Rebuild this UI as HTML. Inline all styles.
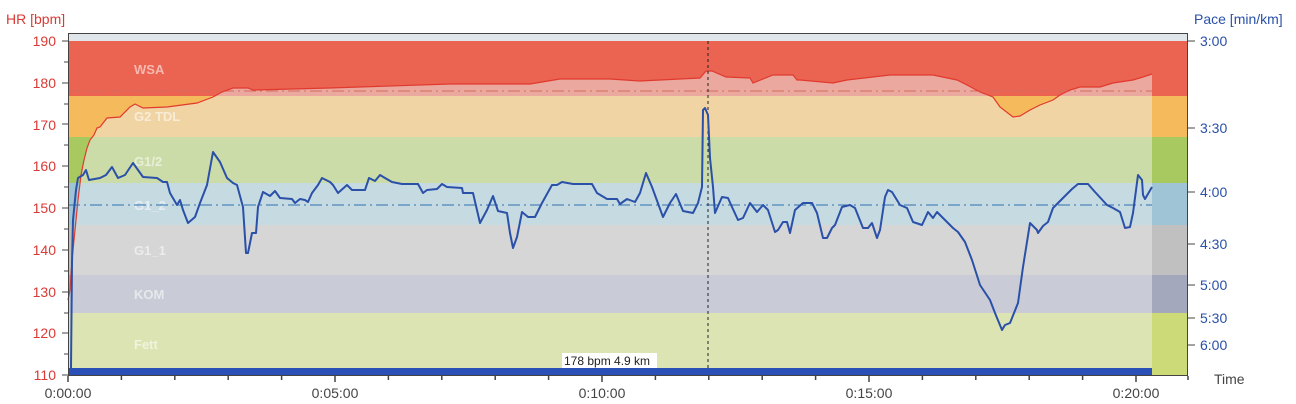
<!DOCTYPE html>
<html><head><meta charset="utf-8"><style>
html,body{margin:0;padding:0;background:#fff;}
svg{display:block;font-family:"Liberation Sans",sans-serif;}
</style></head><body>
<svg width="1296" height="404" viewBox="0 0 1296 404" xmlns="http://www.w3.org/2000/svg">
<defs>
<clipPath id="above">
<polygon points="68,41 1152,41 1152,74 1143,77 1133,80 1113,83 1100,87 1080,87 1070,90 1060,95 1053,100 1040,105 1030,110 1020,116 1013,117 1000,107 993,97 980,92 967,85 957,80 933,75 910,75 890,75 847,80 833,83 800,80 797,80 793,75 773,75 753,83 750,78 726,77 712,71 706,71 700,78 640,81 610,79 560,79 530,84 450,84 330,88 253,90 248,88 233,88 222,92 213,97 197,103 167,107 143,108 135,104 130,107 120,117 107,118 100,127 97,128 94,135 90,140 87,148 84,160 81,175 78,200 75,230 72,260 70,290 68,300"/>
</clipPath>
</defs>
<rect x="68" y="33" width="1120" height="8" fill="#E0E6EA"/>
<g>
<rect x="68" y="41" width="1084" height="55" fill="#EBA89E"/>
<rect x="68" y="96" width="1084" height="41" fill="#F1D4A4"/>
<rect x="68" y="137" width="1084" height="46" fill="#CCDCA8"/>
<rect x="68" y="183" width="1084" height="42" fill="#C6DAE2"/>
<rect x="68" y="225" width="1084" height="50" fill="#D6D6D6"/>
<rect x="68" y="275" width="1084" height="38" fill="#C9CCD6"/>
<rect x="68" y="313" width="1084" height="62" fill="#DDE4B4"/>
</g>
<g>
<rect x="1152" y="41" width="36" height="55" fill="#EB6351"/>
<rect x="1152" y="96" width="36" height="41" fill="#F4BA5C"/>
<rect x="1152" y="137" width="36" height="46" fill="#A8C960"/>
<rect x="1152" y="183" width="36" height="42" fill="#9EC4D6"/>
<rect x="1152" y="225" width="36" height="50" fill="#C0C0C0"/>
<rect x="1152" y="275" width="36" height="38" fill="#A4A8BC"/>
<rect x="1152" y="313" width="36" height="62" fill="#CCDB78"/>
</g>
<g clip-path="url(#above)">
<rect x="68" y="41" width="1084" height="55" fill="#EB6351"/>
<rect x="68" y="96" width="1084" height="41" fill="#F4BA5C"/>
<rect x="68" y="137" width="1084" height="46" fill="#A8C960"/>
<rect x="68" y="183" width="1084" height="42" fill="#9EC4D6"/>
<rect x="68" y="225" width="1084" height="50" fill="#C0C0C0"/>
<rect x="68" y="275" width="1084" height="38" fill="#A4A8BC"/>
</g>
<g fill="#fff" fill-opacity="0.55" font-weight="bold" font-size="13">
<text x="134" y="74">WSA</text>
<text x="134" y="121">G2 TDL</text>
<text x="134" y="166">G1/2</text>
<text x="134" y="210">G1_2</text>
<text x="134" y="255">G1_1</text>
<text x="134" y="299">KOM</text>
<text x="134" y="349">Fett</text>
</g>
<line x1="68" y1="91" x2="1152" y2="91" stroke="#D66A5E" stroke-width="1" stroke-dasharray="12,4,2,4"/>
<line x1="68" y1="205" x2="1152" y2="205" stroke="#2E6FAE" stroke-width="1" stroke-dasharray="12,4,2,4"/>
<polyline fill="none" stroke="#E03A2E" stroke-width="1.2" points="68,300 70,290 72,260 75,230 78,200 81,175 84,160 87,148 90,140 94,135 97,128 100,127 107,118 120,117 130,107 135,104 143,108 167,107 197,103 213,97 222,92 233,88 248,88 253,90 330,88 450,84 530,84 560,79 610,79 640,81 700,78 706,71 712,71 726,77 750,78 753,83 773,75 793,75 797,80 800,80 833,83 847,80 890,75 910,75 933,75 957,80 967,85 980,92 993,97 1000,107 1013,117 1020,116 1030,110 1040,105 1053,100 1060,95 1070,90 1080,87 1100,87 1113,83 1133,80 1143,77 1152,74"/>
<line x1="708" y1="41" x2="708" y2="368" stroke="#222" stroke-width="1" stroke-dasharray="3,3"/>
<polyline fill="none" stroke="#2A50A8" stroke-width="2" stroke-linejoin="round" points="71,368 72,263 73,220 76,190 78,178 83,175 86,170 89,180 100,178 106,175 112,167 118,178 125,175 133,163 143,177 157,178 163,182 167,182 170,193 177,205 180,200 183,210 188,223 195,217 200,203 207,185 213,152 220,162 227,178 233,183 237,185 243,207 246,253 248,253 252,233 256,233 258,207 263,192 270,196 275,191 280,198 292,199 295,203 300,199 305,200 308,202 312,193 318,185 322,178 330,182 333,185 338,193 347,185 352,190 365,190 369,178 375,181 380,175 385,178 392,182 402,184 418,184 423,193 427,190 437,189 442,184 447,187 462,188 463,193 473,193 480,223 487,210 493,196 498,211 507,213 510,233 513,248 517,237 522,212 528,217 535,217 542,203 552,185 557,185 562,182 573,184 592,184 597,193 607,199 617,199 620,204 627,199 635,202 640,193 646,173 652,187 663,217 670,203 676,194 683,211 693,213 698,203 702,187 703,110 705,108 708,115 710,158 713,187 715,213 722,197 728,198 732,207 738,220 743,218 750,203 757,212 763,205 768,210 775,232 778,230 783,222 787,222 790,233 795,210 803,203 812,203 817,213 823,238 827,238 832,228 835,225 842,207 850,205 855,208 863,228 868,228 872,223 877,238 880,230 885,197 888,190 892,192 900,205 907,208 913,222 922,225 928,212 933,218 937,212 943,218 953,228 958,232 965,242 972,260 980,285 990,300 995,313 1002,330 1005,325 1010,323 1018,303 1023,267 1030,223 1037,230 1038,233 1043,226 1048,222 1053,208 1063,198 1072,189 1078,184 1088,184 1095,192 1107,205 1113,208 1120,212 1125,228 1130,227 1133,213 1138,175 1142,180 1143,195 1145,199 1152,187"/>
<rect x="68" y="368" width="1084" height="7" fill="#2A50B8"/>
<rect x="562" y="353" width="95" height="15" fill="#fff"/>
<text x="564" y="365" font-size="12" fill="#222">178 bpm 4.9 km</text>
<rect x="68.5" y="33.5" width="1119" height="342" fill="none" stroke="#444" stroke-width="1"/>
<g stroke="#444" stroke-width="1">
<line x1="62" y1="41" x2="68" y2="41"/><line x1="62" y1="83" x2="68" y2="83"/><line x1="62" y1="124" x2="68" y2="124"/><line x1="62" y1="166" x2="68" y2="166"/><line x1="62" y1="208" x2="68" y2="208"/><line x1="62" y1="250" x2="68" y2="250"/><line x1="62" y1="292" x2="68" y2="292"/><line x1="62" y1="333" x2="68" y2="333"/><line x1="62" y1="375" x2="68" y2="375"/>
<line x1="64" y1="62" x2="68" y2="62"/><line x1="64" y1="104" x2="68" y2="104"/><line x1="64" y1="145" x2="68" y2="145"/><line x1="64" y1="187" x2="68" y2="187"/><line x1="64" y1="229" x2="68" y2="229"/><line x1="64" y1="271" x2="68" y2="271"/><line x1="64" y1="313" x2="68" y2="313"/><line x1="64" y1="354" x2="68" y2="354"/>
</g>
<g fill="#D93A35" font-size="14" text-anchor="end">
<text x="56" y="46">190</text><text x="56" y="88">180</text><text x="56" y="130">170</text><text x="56" y="171">160</text><text x="56" y="213">150</text><text x="56" y="255">140</text><text x="56" y="297">130</text><text x="56" y="338">120</text><text x="56" y="380">110</text>
</g>
<text x="6" y="24" font-size="14" fill="#D93A35">HR [bpm]</text>
<g stroke="#444" stroke-width="1">
<line x1="1188" y1="41" x2="1195" y2="41"/><line x1="1188" y1="128" x2="1195" y2="128"/><line x1="1188" y1="192" x2="1195" y2="192"/><line x1="1188" y1="244" x2="1195" y2="244"/><line x1="1188" y1="285" x2="1195" y2="285"/><line x1="1188" y1="318" x2="1195" y2="318"/><line x1="1188" y1="345" x2="1195" y2="345"/>
</g>
<g fill="#2A50A8" font-size="14">
<text x="1200" y="46">3:00</text><text x="1200" y="133">3:30</text><text x="1200" y="197">4:00</text><text x="1200" y="249">4:30</text><text x="1200" y="290">5:00</text><text x="1200" y="323">5:30</text><text x="1200" y="350">6:00</text>
</g>
<text x="1194" y="24" font-size="14" fill="#2A50A8">Pace [min/km]</text>
<text x="1214" y="384" font-size="14" fill="#444">Time</text>
<g stroke="#444" stroke-width="1.5">
<line x1="68" y1="376" x2="68" y2="382"/><line x1="121.4" y1="376" x2="121.4" y2="380"/><line x1="174.8" y1="376" x2="174.8" y2="380"/><line x1="228.2" y1="376" x2="228.2" y2="380"/><line x1="281.6" y1="376" x2="281.6" y2="380"/>
<line x1="335" y1="376" x2="335" y2="382"/><line x1="388.4" y1="376" x2="388.4" y2="380"/><line x1="441.8" y1="376" x2="441.8" y2="380"/><line x1="495.2" y1="376" x2="495.2" y2="380"/><line x1="548.6" y1="376" x2="548.6" y2="380"/>
<line x1="602" y1="376" x2="602" y2="382"/><line x1="655.4" y1="376" x2="655.4" y2="380"/><line x1="708.8" y1="376" x2="708.8" y2="380"/><line x1="762.2" y1="376" x2="762.2" y2="380"/><line x1="815.6" y1="376" x2="815.6" y2="380"/>
<line x1="869" y1="376" x2="869" y2="382"/><line x1="922.4" y1="376" x2="922.4" y2="380"/><line x1="975.8" y1="376" x2="975.8" y2="380"/><line x1="1029.2" y1="376" x2="1029.2" y2="380"/><line x1="1082.6" y1="376" x2="1082.6" y2="380"/>
<line x1="1136" y1="376" x2="1136" y2="382"/><line x1="1188" y1="376" x2="1188" y2="380"/>
</g>
<g fill="#444" font-size="14" text-anchor="middle">
<text x="68" y="398">0:00:00</text><text x="335" y="398">0:05:00</text><text x="602" y="398">0:10:00</text><text x="869" y="398">0:15:00</text><text x="1136" y="398">0:20:00</text>
</g>
</svg>
</body></html>
